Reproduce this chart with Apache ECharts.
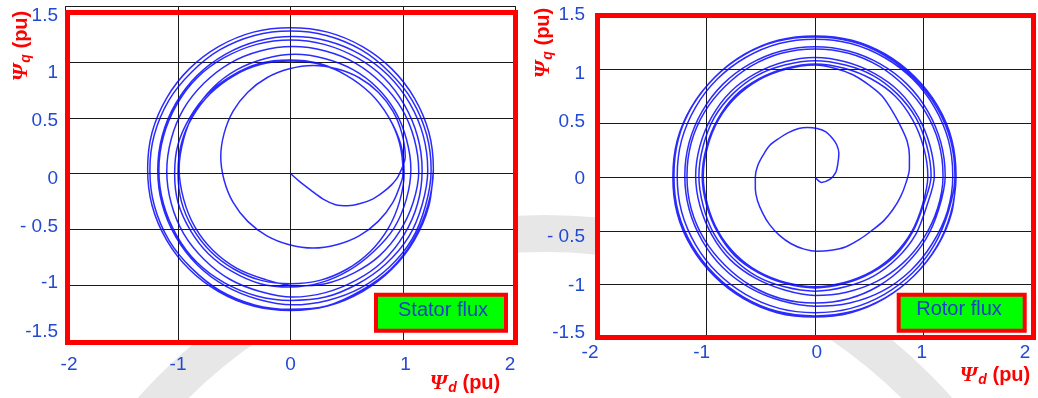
<!DOCTYPE html>
<html>
<head>
<meta charset="utf-8">
<script src="https://cdn.jsdelivr.net/npm/echarts@6/dist/echarts.min.js"></script>
<style>
  html, body { margin: 0; padding: 0; background: #fff; }
  #chart { width: 1038px; height: 398px; }
</style>
</head>
<body>
<div id="chart"></div>
<script>
// Stator flux trajectory (psi_d, psi_q in pu), sampled every 15 degrees of rotation:
// leaves the origin, makes an off-centre first turn, then widens ring by ring.
const statorD = [
  0.00, 0.09, 0.18, 0.29, 0.40, 0.51, 0.62, 0.73, 0.82, 0.90, 0.96,
  1.02, 0.99, 0.91, 0.78, 0.61, 0.41, 0.20, -0.01, -0.21, -0.38, -0.51, -0.59,
  -0.62, -0.59, -0.51, -0.38, -0.21, -0.01, 0.20, 0.41, 0.61, 0.78, 0.91, 0.99,
  1.00, 0.97, 0.87, 0.71, 0.50, 0.26, 0.00, -0.26, -0.50, -0.71, -0.87, -0.97,
  -1.00, -0.97, -0.87, -0.71, -0.50, -0.26, 0.00, 0.26, 0.50, 0.71, 0.87, 0.97,
  1.01, 0.98, 0.87, 0.71, 0.50, 0.25, -0.01, -0.27, -0.52, -0.73, -0.89, -1.00,
  -1.03, -1.00, -0.89, -0.73, -0.52, -0.27, 0.00, 0.27, 0.52, 0.74, 0.92, 1.03,
  1.07, 1.03, 0.93, 0.77, 0.56, 0.31, 0.04, -0.23, -0.48, -0.69, -0.85, -0.95,
  -0.99, -0.95, -0.85, -0.69, -0.48, -0.23, 0.04, 0.31, 0.57, 0.79, 0.97, 1.09,
  1.14, 1.10, 0.99, 0.81, 0.58, 0.31, 0.02, -0.27, -0.54, -0.77, -0.95, -1.06,
  -1.10, -1.06, -0.95, -0.77, -0.54, -0.27, 0.02, 0.31, 0.58, 0.82, 1.01, 1.13,
  1.17, 1.13, 1.01, 0.83, 0.59, 0.30, 0.00, -0.30, -0.59, -0.83, -1.01, -1.13,
  -1.17, -1.13, -1.01, -0.83, -0.59, -0.30, 0.00, 0.31, 0.60, 0.85, 1.05, 1.17,
  1.22, 1.18, 1.06, 0.87, 0.62, 0.33, 0.02, -0.29, -0.58, -0.83, -1.02, -1.14,
  -1.18, -1.14, -1.02, -0.83, -0.58, -0.29, 0.02, 0.33, 0.62, 0.88, 1.08, 1.20,
  1.25, 1.21, 1.08, 0.88, 0.63, 0.32, 0.00, -0.32, -0.63, -0.88, -1.08, -1.21,
  -1.25, -1.21, -1.08, -0.88, -0.63, -0.32, 0.00, 0.32, 0.63, 0.89, 1.09, 1.22,
  1.27, 1.23, 1.10, 0.90, 0.64, 0.33, 0.00, -0.33, -0.64, -0.90, -1.10, -1.23,
  -1.27, -1.23, -1.10, -0.90, -0.64, -0.33, 0.00, 0.33, 0.64, 0.90, 1.10, 1.23, 1.27
];
const statorQ = [
  0.00, -0.08, -0.15, -0.23, -0.28, -0.29, -0.27, -0.23, -0.17, -0.10, -0.02,
  0.15, 0.36, 0.56, 0.73, 0.86, 0.94, 0.97, 0.94, 0.86, 0.73, 0.56, 0.36,
  0.15, -0.06, -0.26, -0.43, -0.56, -0.64, -0.67, -0.64, -0.56, -0.43, -0.26, -0.06,
  0.01, 0.27, 0.51, 0.72, 0.88, 0.98, 1.01, 0.98, 0.88, 0.72, 0.51, 0.27,
  0.01, -0.25, -0.49, -0.70, -0.86, -0.96, -0.99, -0.96, -0.86, -0.70, -0.49, -0.25,
  0.00, 0.26, 0.51, 0.72, 0.88, 0.99, 1.02, 0.99, 0.88, 0.72, 0.51, 0.26,
  0.00, -0.26, -0.51, -0.72, -0.88, -0.99, -1.02, -0.98, -0.87, -0.70, -0.49, -0.23,
  0.04, 0.31, 0.56, 0.77, 0.93, 1.03, 1.07, 1.03, 0.93, 0.77, 0.56, 0.31,
  0.04, -0.23, -0.48, -0.69, -0.85, -0.95, -1.01, -0.99, -0.89, -0.74, -0.52, -0.26,
  0.02, 0.31, 0.58, 0.81, 0.99, 1.10, 1.14, 1.10, 0.99, 0.81, 0.58, 0.31,
  0.02, -0.27, -0.54, -0.77, -0.95, -1.06, -1.11, -1.07, -0.96, -0.79, -0.55, -0.27,
  0.03, 0.33, 0.62, 0.86, 1.04, 1.16, 1.20, 1.16, 1.04, 0.86, 0.62, 0.33,
  0.03, -0.27, -0.56, -0.80, -0.98, -1.10, -1.14, -1.11, -0.99, -0.81, -0.57, -0.28,
  0.03, 0.34, 0.63, 0.88, 1.07, 1.19, 1.23, 1.19, 1.07, 0.88, 0.63, 0.34,
  0.03, -0.28, -0.57, -0.82, -1.01, -1.13, -1.18, -1.14, -1.03, -0.84, -0.59, -0.29,
  0.03, 0.35, 0.66, 0.91, 1.11, 1.24, 1.28, 1.24, 1.11, 0.91, 0.66, 0.35,
  0.03, -0.29, -0.60, -0.85, -1.05, -1.18, -1.22, -1.19, -1.05, -0.86, -0.60, -0.29,
  0.04, 0.37, 0.68, 0.94, 1.14, 1.27, 1.31, 1.27, 1.14, 0.94, 0.68, 0.37,
  0.04, -0.29, -0.60, -0.86, -1.06, -1.19, -1.23, -1.19, -1.06, -0.86, -0.60, -0.29, 0.04
];

// Rotor flux trajectory: spiral out of the origin, then the steady rings.
const rotorD = [
  0.00, 0.06, 0.14, 0.19, 0.21, 0.22, 0.20, 0.16, 0.10, 0.02, -0.07, -0.15,
  -0.25, -0.33, -0.42, -0.48, -0.53, -0.55, -0.55, -0.53, -0.48, -0.42, -0.33, -0.22,
  -0.10, 0.02, 0.15, 0.28, 0.41, 0.52, 0.63, 0.72, 0.79, 0.84, 0.87, 0.87,
  0.85, 0.80, 0.72, 0.62, 0.49, 0.35, 0.18, 0.00,
  -0.27, -0.52, -0.73, -0.89, -0.99, -1.03, -0.99, -0.89, -0.73, -0.52, -0.27, 0.00,
  0.27, 0.52, 0.73, 0.89, 0.99,
  1.04, 1.00, 0.90, 0.74, 0.52, 0.27, 0.00, -0.27, -0.52, -0.74, -0.90, -1.00,
  -1.04, -1.00, -0.90, -0.74, -0.52, -0.27, 0.00, 0.27, 0.52, 0.74, 0.90, 1.00,
  1.07, 1.03, 0.93, 0.76, 0.54, 0.28, 0.00, -0.28, -0.54, -0.76, -0.93, -1.03,
  -1.07, -1.03, -0.93, -0.76, -0.54, -0.28, 0.00, 0.28, 0.54, 0.76, 0.93, 1.03,
  1.10, 1.06, 0.95, 0.78, 0.55, 0.28, 0.00, -0.28, -0.55, -0.78, -0.95, -1.06,
  -1.10, -1.06, -0.95, -0.78, -0.55, -0.28, 0.00, 0.29, 0.57, 0.81, 1.00, 1.13,
  1.18, 1.14, 1.02, 0.83, 0.59, 0.31, 0.00, -0.31, -0.59, -0.83, -1.02, -1.14,
  -1.18, -1.14, -1.02, -0.83, -0.59, -0.31, 0.00, 0.31, 0.59, 0.83, 1.02, 1.14,
  1.20, 1.16, 1.04, 0.85, 0.60, 0.31, 0.00, -0.31, -0.60, -0.85, -1.04, -1.16,
  -1.20, -1.16, -1.04, -0.85, -0.60, -0.31, 0.00, 0.32, 0.62, 0.88, 1.08, 1.22,
  1.27, 1.23, 1.10, 0.90, 0.64, 0.33, 0.00, -0.33, -0.64, -0.90, -1.10, -1.23,
  -1.27, -1.23, -1.10, -0.90, -0.64, -0.33, 0.00, 0.33, 0.64, 0.90, 1.10, 1.23,
  1.29, 1.25, 1.12, 0.91, 0.64, 0.33, -0.01, -0.35, -0.66, -0.93, -1.14, -1.27,
  -1.31, -1.27, -1.14, -0.93, -0.66, -0.35, -0.01, 0.33, 0.64, 0.91, 1.12, 1.25,
  1.30, 1.26, 1.13, 0.92, 0.65, 0.34, 0.00, -0.34, -0.65, -0.92, -1.13, -1.26,
  -1.30, -1.26, -1.13, -0.92, -0.65, -0.34, 0.00, 0.34, 0.65, 0.92, 1.13, 1.26, 1.30
];
const rotorQ = [
  0.00, -0.05, -0.02, 0.04, 0.12, 0.22, 0.30, 0.36, 0.42, 0.45, 0.46, 0.45,
  0.41, 0.36, 0.29, 0.20, 0.10, 0.00, -0.11, -0.22, -0.34, -0.44, -0.54, -0.62,
  -0.67, -0.69, -0.68, -0.65, -0.58, -0.50, -0.41, -0.30, -0.18, -0.05, 0.08, 0.20,
  0.33, 0.45, 0.60, 0.75, 0.86, 0.95, 1.01, 1.04,
  1.00, 0.90, 0.74, 0.53, 0.28, 0.01, -0.26, -0.51, -0.72, -0.88, -0.98, -1.02,
  -0.98, -0.88, -0.72, -0.51, -0.26,
  0.01, 0.28, 0.53, 0.75, 0.91, 1.01, 1.05, 1.01, 0.91, 0.75, 0.53, 0.28,
  0.01, -0.26, -0.51, -0.73, -0.89, -0.99, -1.03, -0.99, -0.89, -0.73, -0.51, -0.26,
  0.01, 0.29, 0.55, 0.77, 0.94, 1.04, 1.08, 1.04, 0.94, 0.77, 0.55, 0.29,
  0.01, -0.27, -0.53, -0.75, -0.92, -1.02, -1.06, -1.02, -0.92, -0.75, -0.53, -0.27,
  0.01, 0.29, 0.56, 0.79, 0.96, 1.07, 1.11, 1.07, 0.96, 0.79, 0.56, 0.29,
  0.01, -0.27, -0.54, -0.77, -0.94, -1.05, -1.10, -1.07, -0.97, -0.80, -0.57, -0.29,
  0.01, 0.32, 0.60, 0.84, 1.03, 1.15, 1.19, 1.15, 1.03, 0.84, 0.60, 0.32,
  0.01, -0.30, -0.58, -0.82, -1.01, -1.13, -1.17, -1.13, -1.01, -0.82, -0.58, -0.30,
  0.01, 0.32, 0.61, 0.86, 1.05, 1.17, 1.21, 1.17, 1.05, 0.86, 0.61, 0.32,
  0.01, -0.30, -0.59, -0.84, -1.03, -1.15, -1.20, -1.17, -1.06, -0.87, -0.62, -0.32,
  0.01, 0.34, 0.65, 0.91, 1.11, 1.24, 1.28, 1.24, 1.11, 0.91, 0.65, 0.34,
  0.01, -0.32, -0.63, -0.89, -1.09, -1.22, -1.26, -1.22, -1.09, -0.89, -0.63, -0.32,
  0.00, 0.34, 0.65, 0.92, 1.13, 1.26, 1.30, 1.26, 1.13, 0.92, 0.65, 0.34,
  0.00, -0.34, -0.65, -0.92, -1.13, -1.26, -1.30, -1.26, -1.13, -0.92, -0.65, -0.34,
  0.01, 0.35, 0.66, 0.93, 1.14, 1.27, 1.31, 1.27, 1.14, 0.93, 0.66, 0.35,
  0.01, -0.33, -0.64, -0.91, -1.12, -1.25, -1.29, -1.25, -1.12, -0.91, -0.64, -0.33, 0.01
];

// Tick labels, from the lowest value upwards
const dTicks = ['-2', '-1', '0', '1', '2'];
const qTicks = ['-1.5', '-1', '- 0.5', '0', '0.5', '1', '1.5'];

const legendNames = ['Stator flux', 'Rotor flux'];

const BLUE_TEXT = '#2349d2';
const RED = '#ff0000';
const TICK_FONT = { fontFamily: '"Liberation Sans", Arial, sans-serif', fontSize: 19, color: BLUE_TEXT };

// small per-label nudges (px) for the hand-placed tick labels
const qNudge = [
  [-8.5, -2.5, -2, 5, 3, 11, 9],
  [-6, 1.3, 5.7, 1.5, -1.7, 4.7, -0.5]
];
const dNudge = [
  [3.5, 0, 0, 2.5, -5.5],
  [-8, -4.8, 1.7, -1.8, -7]
];

function yRich(k) {
  const rich = {};
  qNudge[k].forEach((dy, i) => {
    rich['t' + i] = Object.assign({}, TICK_FONT, {
      padding: dy >= 0 ? [2 * dy, 0, 0, 0] : [0, 0, -2 * dy, 0]
    });
  });
  return rich;
}
function xRich(k) {
  const rich = {};
  dNudge[k].forEach((dx, i) => {
    rich['t' + i] = Object.assign({}, TICK_FONT, {
      padding: dx >= 0 ? [0, 0, 0, 2 * dx] : [0, -2 * dx, 0, 0]
    });
  });
  return rich;
}

function xAxis(k, margin) {
  return {
    gridIndex: k, type: 'value', min: -2, max: 2, interval: 1,
    axisLine: { show: false }, axisTick: { show: false },
    splitLine: { show: true, lineStyle: { color: '#1a1a1a', width: 1 } },
    axisLabel: {
      margin: margin,
      formatter: v => { const i = Math.round(v + 2); return '{t' + i + '|' + dTicks[i] + '}'; },
      rich: xRich(k)
    }
  };
}
function yAxis(k, margin) {
  return {
    gridIndex: k, type: 'value', min: -1.5, max: 1.5, interval: 0.5,
    axisLine: { show: false }, axisTick: { show: false },
    splitLine: { show: true, lineStyle: { color: '#1a1a1a', width: 1 } },
    axisLabel: {
      margin: margin,
      formatter: v => { const i = Math.round((v + 1.5) * 2); return '{t' + i + '|' + qTicks[i] + '}'; },
      rich: yRich(k)
    }
  };
}

function pairs(a, b) { return a.map((v, i) => [v, b[i]]); }

function fluxSeries(k, d, q) {
  return {
    type: 'line', xAxisIndex: k, yAxisIndex: k,
    data: pairs(d, q), showSymbol: false, smooth: 0.3, silent: true,
    lineStyle: { color: '#0606ff', width: 1.5, opacity: 0.85 }
  };
}

function axisTitle(x, y, sub, rot) {
  return {
    type: 'text', x: x, y: y, rotation: rot, z: 100,
    style: {
      text: '{psi|Ψ}{sub|' + sub + '}{pu| (pu)}',
      align: 'center', verticalAlign: 'middle', textAlign: 'center', textVerticalAlign: 'middle',
      rich: {
        psi: { fontFamily: '"Liberation Serif", serif', fontStyle: 'italic', fontWeight: 'bold', fontSize: 22, fill: RED, color: RED },
        sub: { fontFamily: '"Liberation Sans", Arial, sans-serif', fontStyle: 'italic', fontWeight: 'bold', fontSize: 14, fill: RED, color: RED, padding: [10, 0, 0, 1] },
        pu: { fontFamily: '"Liberation Sans", Arial, sans-serif', fontWeight: 'bold', fontSize: 20, fill: RED, color: RED }
      }
    }
  };
}

function legendBox(x, y, w, h, tx, ty, label) {
  return [
    { type: 'rect', z: 100, shape: { x: x, y: y, width: w, height: h },
      style: { fill: '#00ff00', stroke: RED, lineWidth: 4 } },
    { type: 'text', z: 101, x: tx, y: ty,
      style: { text: label, fill: '#1f40c8', font: '20px "Liberation Sans", Arial, sans-serif',
               align: 'center', verticalAlign: 'middle', textAlign: 'center', textVerticalAlign: 'middle' } }
  ];
}

const chart = echarts.init(document.getElementById('chart'), null, { renderer: 'canvas' });

chart.setOption({
  animation: false,
  backgroundColor: '#ffffff',
  grid: [
    { left: 65.5, top: 6.5, width: 450, height: 334, show: true, backgroundColor: '#ffffff', borderColor: '#1a1a1a', borderWidth: 1 },
    { left: 598, top: 15.5, width: 434, height: 323, show: true, backgroundColor: '#ffffff', borderColor: '#1a1a1a', borderWidth: 1 }
  ],
  xAxis: [xAxis(0, 15), xAxis(1, 5)],
  yAxis: [yAxis(0, 7.5), yAxis(1, 13)],
  series: [fluxSeries(0, statorD, statorQ), fluxSeries(1, rotorD, rotorQ)],
  graphic: [
    // faint background seal behind the plots
    { type: 'ring', z: -10, shape: { cx: 545, cy: 760, r: 545, r0: 508 },
      style: { fill: '#e7e7e7' }, silent: true },
    // red frames around both plots
    { type: 'rect', z: 90, shape: { x: 67.5, y: 12.5, width: 448, height: 330 },
      style: { fill: 'transparent', stroke: RED, lineWidth: 5 } },
    { type: 'rect', z: 90, shape: { x: 597.5, y: 15.5, width: 436, height: 322 },
      style: { fill: 'transparent', stroke: RED, lineWidth: 5 } },
    axisTitle(21, 46, 'q', Math.PI / 2),
    axisTitle(543, 43, 'q', Math.PI / 2),
    axisTitle(465, 383, 'd', 0),
    axisTitle(995, 375, 'd', 0),
    ...legendBox(376, 294.7, 130, 36, 443, 310, legendNames[0]),
    ...legendBox(898.7, 294.7, 126, 36, 959, 309, legendNames[1])
  ]
});
</script>
</body>
</html>
